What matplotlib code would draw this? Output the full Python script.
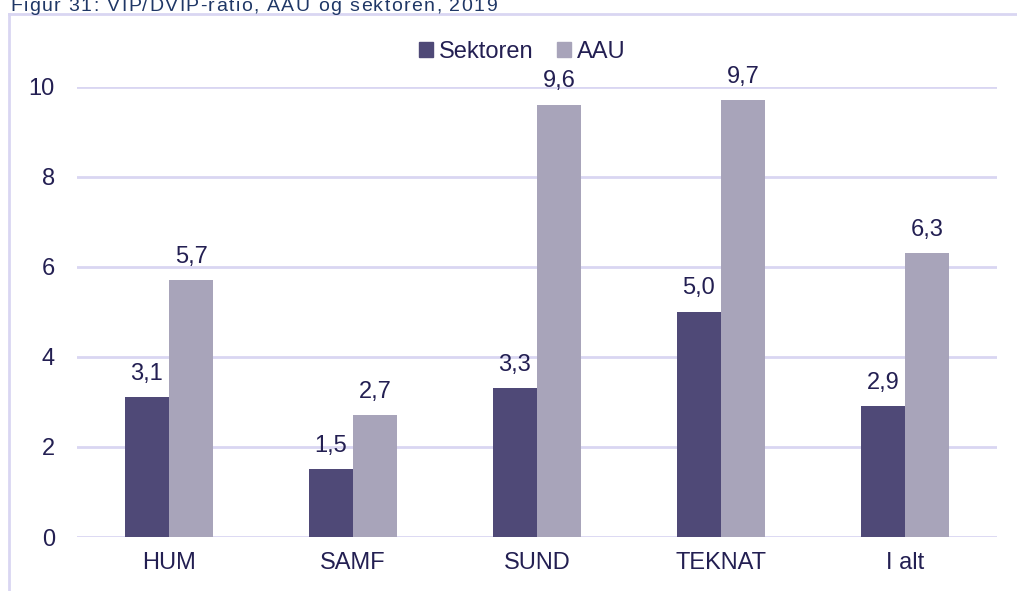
import numpy as np
import matplotlib
matplotlib.use('Agg')
import matplotlib.pyplot as plt
from matplotlib.patches import Rectangle
from matplotlib.lines import Line2D

plt.rcParams['font.family'] = ['Liberation Sans', 'DejaVu Sans']

# data
categories = ['HUM', 'SAMF', 'SUND', 'TEKNAT', 'I alt']
sektoren = [3.1, 1.5, 3.3, 5.0, 2.9]
aau = [5.7, 2.7, 9.6, 9.7, 6.3]
series_names = ['Sektoren', 'AAU']
title = 'Figur 31: VIP/DVIP-ratio, AAU og sektoren, 2019'

c_dark = '#4f4977'
c_light = '#a8a4ba'
c_text = '#231f52'
c_grid = '#d9d6f2'
c_title = '#1f3766'
fs = 17

W, H = 1017, 591
fig = plt.figure(figsize=(W / 100, H / 100), dpi=100)
ax = fig.add_axes([77 / W, 1 - 537 / H, (997 - 77) / W, (537 - 86.7) / H])

x = np.arange(len(categories))
bw = 0.24
b1 = ax.bar(x - bw / 2, sektoren, bw, color=c_dark, zorder=3)
b2 = ax.bar(x + bw / 2, aau, bw, color=c_light, zorder=3)

for bars, vals in ((b1, sektoren), (b2, aau)):
    for r, v in zip(bars, vals):
        ax.annotate(f'{v:.1f}'.replace('.', ','),
                    (r.get_x() + r.get_width() / 2, v),
                    xytext=(0, 12.5), textcoords='offset points',
                    ha='center', va='baseline', fontsize=fs, color=c_text)

ax.set_xlim(-0.5, len(categories) - 0.5)
ax.set_ylim(0, 10)
ax.set_yticks(range(0, 11, 2))
ax.set_xticks(x)
ax.set_xticklabels(categories)
ax.tick_params(axis='both', length=0, labelsize=fs, labelcolor=c_text)
ax.tick_params(axis='y', pad=16)
ax.tick_params(axis='x', pad=11)
ax.yaxis.grid(True, color=c_grid, linewidth=2, zorder=0)
for s in ax.spines.values():
    s.set_visible(False)

handles = [Rectangle((0, 0), 1, 1, color=c_dark), Rectangle((0, 0), 1, 1, color=c_light)]
fig.legend(handles, series_names, loc='center', bbox_to_anchor=(522 / W, 1 - 51.5 / H),
           ncol=2, frameon=False, fontsize=fs, labelcolor=c_text,
           handlelength=0.6, handleheight=0.6, handletextpad=0.25,
           columnspacing=1.0, borderpad=0)

# frame round the chart
fig.add_artist(Line2D([9 / W, 1.0], [1 - 14 / H, 1 - 14 / H], transform=fig.transFigure,
                      color=c_grid, linewidth=2))
fig.add_artist(Line2D([9 / W, 9 / W], [0, 1 - 14 / H], transform=fig.transFigure,
                      color=c_grid, linewidth=2))

# letter-spaced title, its top cut off like in the report
renderer = fig.canvas.get_renderer()
tsize = 14
widths = []
for ch in title:
    t = fig.text(0, 0, ch if ch != ' ' else 'i', fontsize=tsize)
    w = t.get_window_extent(renderer).width
    if ch == ' ':
        w = w * 0.278 / 0.222
    widths.append(w)
    t.remove()
gap = (487 - sum(widths)) / (len(title) - 1)
xpos = 10
for ch, w in zip(title, widths):
    fig.text(xpos / W, 1 - 11 / H, ch, fontsize=tsize, color=c_title, va='baseline', ha='left')
    xpos += w + gap

fig.savefig('out.png', dpi=100)
